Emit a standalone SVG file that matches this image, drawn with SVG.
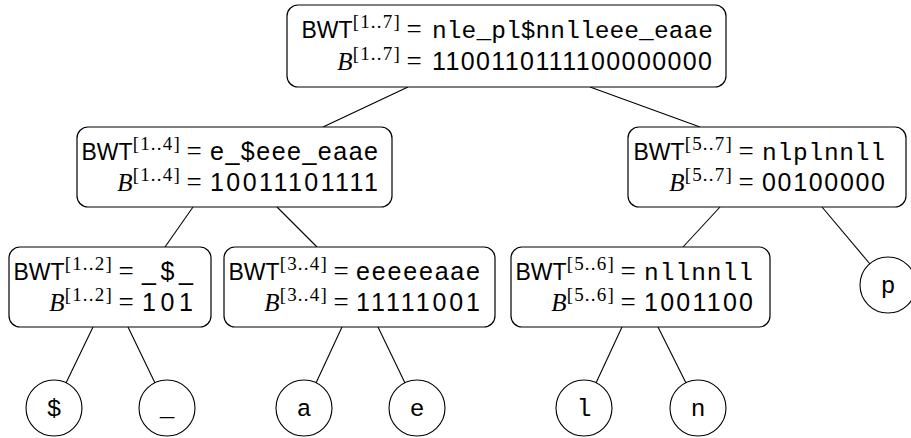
<svg xmlns="http://www.w3.org/2000/svg" width="911" height="438" viewBox="0 0 911 438">
<style>
.box{fill:#fff;stroke:#000;stroke-width:1.2}
.leaf{fill:#fff;stroke:#000;stroke-width:1.1}
.edge{stroke:#000;stroke-width:1.1;fill:none}
.sf{font-family:"Liberation Sans",Arial,sans-serif;font-size:23px;fill:#000}
.sv{font-family:"Liberation Sans",Arial,sans-serif;font-size:25px;fill:#000}
.tt{font-family:"Liberation Mono","DejaVu Sans Mono",monospace;font-size:24.5px;fill:#000}
.mi{font-family:"Liberation Serif","Times New Roman",serif;font-size:25px;font-style:italic;fill:#000}
.sup{font-family:"Liberation Serif","Times New Roman",serif;font-size:19px;font-style:normal;letter-spacing:1.2px}
.eq{font-family:"Liberation Serif","Times New Roman",serif;font-size:27px;fill:#000;text-anchor:middle}
.r{text-anchor:end}
.c{text-anchor:middle}
</style>
<g id="connectors">
<line class="edge" x1="408" y1="87" x2="323" y2="127"/>
<line class="edge" x1="590" y1="87" x2="700" y2="127"/>
<line class="edge" x1="193" y1="207" x2="165" y2="247"/>
<line class="edge" x1="277" y1="207" x2="317" y2="247"/>
<line class="edge" x1="720" y1="207" x2="683" y2="247"/>
<line class="edge" x1="822" y1="207" x2="870" y2="264"/>
<line class="edge" x1="93" y1="327" x2="66" y2="383"/>
<line class="edge" x1="128" y1="327" x2="155" y2="383"/>
<line class="edge" x1="342" y1="327" x2="316" y2="383"/>
<line class="edge" x1="378" y1="327" x2="405" y2="383"/>
<line class="edge" x1="622" y1="327" x2="596" y2="383"/>
<line class="edge" x1="658" y1="327" x2="686" y2="383"/>
</g>
<g id="n17">
<rect class="box" x="287" y="5" width="439" height="82" rx="11"/>
<text class="sf r" x="401" y="38">BWT<tspan class="sup" dy="-10">[1..7]</tspan></text>
<text class="eq" x="414" y="38">=</text>
<text class="tt" x="432" y="38" textLength="281">nle_pl$nnlleee_eaae</text>
<text class="mi r" x="401" y="70">B<tspan class="sup" dy="-10">[1..7]</tspan></text>
<text class="eq" x="414" y="70">=</text>
<text class="sv" x="432" y="70" textLength="280">1100110111100000000</text>
</g>
<g id="n14">
<rect class="box" x="77" y="127" width="315" height="80" rx="11"/>
<text class="sf r" x="181" y="160">BWT<tspan class="sup" dy="-10">[1..4]</tspan></text>
<text class="eq" x="194" y="160">=</text>
<text class="sv" x="210" y="160" textLength="168">e_$eee_eaae</text>
<text class="mi r" x="181" y="191">B<tspan class="sup" dy="-10">[1..4]</tspan></text>
<text class="eq" x="194" y="191">=</text>
<text class="sv" x="210" y="191" textLength="168">10011101111</text>
</g>
<g id="n57">
<rect class="box" x="628" y="127" width="278" height="80" rx="11"/>
<text class="sf r" x="733" y="160">BWT<tspan class="sup" dy="-10">[5..7]</tspan></text>
<text class="eq" x="746" y="160">=</text>
<text class="tt" x="762" y="160" textLength="123">nlplnnll</text>
<text class="mi r" x="733" y="191">B<tspan class="sup" dy="-10">[5..7]</tspan></text>
<text class="eq" x="746" y="191">=</text>
<text class="sv" x="762" y="191" textLength="123">00100000</text>
</g>
<g id="n12">
<rect class="box" x="9" y="247" width="202" height="80" rx="11"/>
<text class="sf r" x="113" y="280">BWT<tspan class="sup" dy="-10">[1..2]</tspan></text>
<text class="eq" x="126" y="280">=</text>
<text class="sv" x="142" y="280" textLength="51">_$_</text>
<text class="mi r" x="113" y="311">B<tspan class="sup" dy="-10">[1..2]</tspan></text>
<text class="eq" x="126" y="311">=</text>
<text class="sv" x="142" y="311" textLength="51">101</text>
</g>
<g id="n34">
<rect class="box" x="224" y="247" width="271" height="80" rx="11"/>
<text class="sf r" x="328" y="280">BWT<tspan class="sup" dy="-10">[3..4]</tspan></text>
<text class="eq" x="341" y="280">=</text>
<text class="sv" x="356" y="280" textLength="124">eeeeeaae</text>
<text class="mi r" x="328" y="311">B<tspan class="sup" dy="-10">[3..4]</tspan></text>
<text class="eq" x="341" y="311">=</text>
<text class="sv" x="356" y="311" textLength="124">11111001</text>
</g>
<g id="n56">
<rect class="box" x="511" y="247" width="259" height="80" rx="11"/>
<text class="sf r" x="615" y="280">BWT<tspan class="sup" dy="-10">[5..6]</tspan></text>
<text class="eq" x="628" y="280">=</text>
<text class="tt" x="644" y="280" textLength="109">nllnnll</text>
<text class="mi r" x="615" y="311">B<tspan class="sup" dy="-10">[5..6]</tspan></text>
<text class="eq" x="628" y="311">=</text>
<text class="sv" x="644" y="311" textLength="109">1001100</text>
</g>
<g id="leaf-dollar"><circle class="leaf" cx="54" cy="408" r="28"/><text class="tt c" x="54" y="416">$</text></g>
<g id="leaf-underscore"><circle class="leaf" cx="167" cy="408" r="28"/><text class="tt c" x="167" y="416">_</text></g>
<g id="leaf-a"><circle class="leaf" cx="304" cy="408" r="28"/><text class="tt c" x="304" y="416">a</text></g>
<g id="leaf-e"><circle class="leaf" cx="417" cy="408" r="28"/><text class="tt c" x="417" y="416">e</text></g>
<g id="leaf-l"><circle class="leaf" cx="584" cy="408" r="28"/><text class="tt c" x="584" y="416">l</text></g>
<g id="leaf-n"><circle class="leaf" cx="698" cy="408" r="28"/><text class="tt c" x="698" y="416">n</text></g>
<g id="leaf-p"><circle class="leaf" cx="888" cy="285" r="28"/><text class="tt c" x="888" y="293">p</text></g>
</svg>
